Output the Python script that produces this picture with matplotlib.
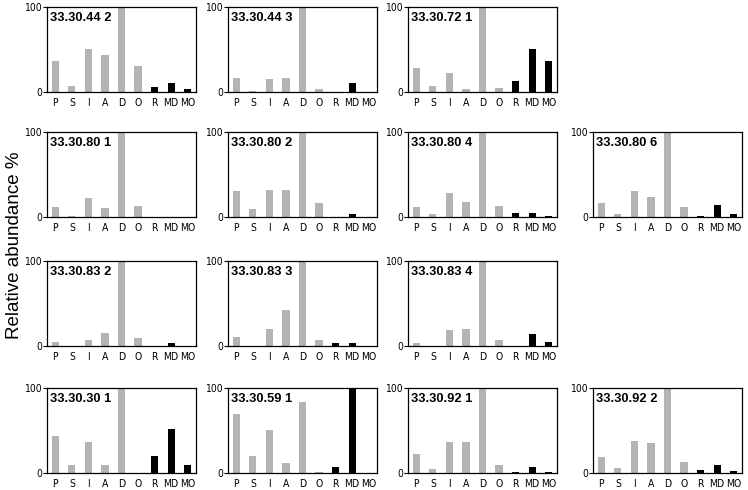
import matplotlib
matplotlib.use("Agg")
import matplotlib.pyplot as plt
from matplotlib import font_manager

plt.rcParams['font.family'] = ['Liberation Sans', 'DejaVu Sans']

# look for an upright narrow face for the tick labels
narrow_files = sorted(f.fname for f in font_manager.fontManager.ttflist
                      if ('Narrow' in f.fname or 'Condensed' in f.fname)
                      and f.style == 'normal' and f.weight in (400, 'normal'))
narrow_files.sort(key=lambda p: 'Liberation' not in p)

categories = ["P", "S", "I", "A", "D", "O", "R", "MD", "MO"]

# panel titles, row by row (None = empty slot)
titles = [
    ["33.30.44 2", "33.30.44 3", "33.30.72 1", None],
    ["33.30.80 1", "33.30.80 2", "33.30.80 4", "33.30.80 6"],
    ["33.30.83 2", "33.30.83 3", "33.30.83 4", None],
    ["33.30.30 1", "33.30.59 1", "33.30.92 1", "33.30.92 2"],
]

# relative abundance % for P S I A D O R MD MO
v_44_2 = [36, 7, 50, 44, 100, 31, 6, 10, 3]
v_44_3 = [17, 1.5, 15, 17, 100, 3, 0.5, 10, 0.5]
v_72_1 = [28, 6.5, 22, 4, 100, 5, 13, 51, 37]
v_80_1 = [11.5, 1.5, 22.5, 10, 100, 12.5, 0, 0, 0]
v_80_2 = [30, 9, 32, 32, 100, 16, 0, 3.5, 0.5]
v_80_4 = [12, 3, 28, 18, 100, 13, 4.5, 4.5, 1]
v_80_6 = [16, 4, 30.5, 23.5, 100, 12, 1, 14, 3]
v_83_2 = [5, 0, 7, 15, 100, 10, 0, 3, 0]
v_83_3 = [11, 0.5, 20.5, 42, 100, 6.5, 4, 4, 0.5]
v_83_4 = [3, 0, 18.5, 20, 100, 7, 0, 14, 5]
v_30_1 = [43, 10, 37, 10, 100, 0, 20, 52, 10]
v_59_1 = [70, 20.5, 51, 11.5, 83.5, 1, 7, 100, 0]
v_92_1 = [22, 5, 36, 36, 100, 9, 1, 7.5, 1.5]
v_92_2 = [19, 5.5, 38, 35, 100, 12.5, 3.5, 10, 2]

values = [
    [v_44_2, v_44_3, v_72_1, None],
    [v_80_1, v_80_2, v_80_4, v_80_6],
    [v_83_2, v_83_3, v_83_4, None],
    [v_30_1, v_59_1, v_92_1, v_92_2],
]

colors = ["#b3b3b3"] * 6 + ["#000000"] * 3

W, H = 748, 490
fig = plt.figure(figsize=(W / 100, H / 100), dpi=100)

col_left = [47, 228, 408, 593]
row_top = [7, 132, 261, 388]
pw, ph = 149, 85

tick_font = dict(fontsize=6.8)
if narrow_files:
    tick_font = dict(fontproperties=font_manager.FontProperties(fname=narrow_files[0], size=7.5))

for r in range(4):
    for c in range(4):
        if values[r][c] is None:
            continue
        ax = fig.add_axes([col_left[c] / W, 1 - (row_top[r] + ph) / H, pw / W, ph / H])
        ax.bar(range(len(categories)), values[r][c], width=0.44, color=colors)
        ax.set_xlim(-0.5, 8.5)
        ax.set_ylim(0, 100)
        ax.set_yticks([0, 100])
        ax.set_yticklabels(["0", "100"], **tick_font)
        ax.set_xticks(range(len(categories)))
        ax.set_xticklabels(categories, **tick_font)
        ax.tick_params(axis="x", length=0, pad=4)
        ax.tick_params(axis="y", length=3, width=0.8, pad=0.5)
        for s in ax.spines.values():
            s.set_linewidth(0.9)
        ax.text(0.02, 0.94, titles[r][c], transform=ax.transAxes,
                fontsize=9.3, fontweight="bold", va="top", ha="left")

fig.text(15 / W, 0.5, "Relative abundance %", rotation=90,
         fontsize=13.5, va="center", ha="center")

fig.savefig("out.png", dpi=100)
